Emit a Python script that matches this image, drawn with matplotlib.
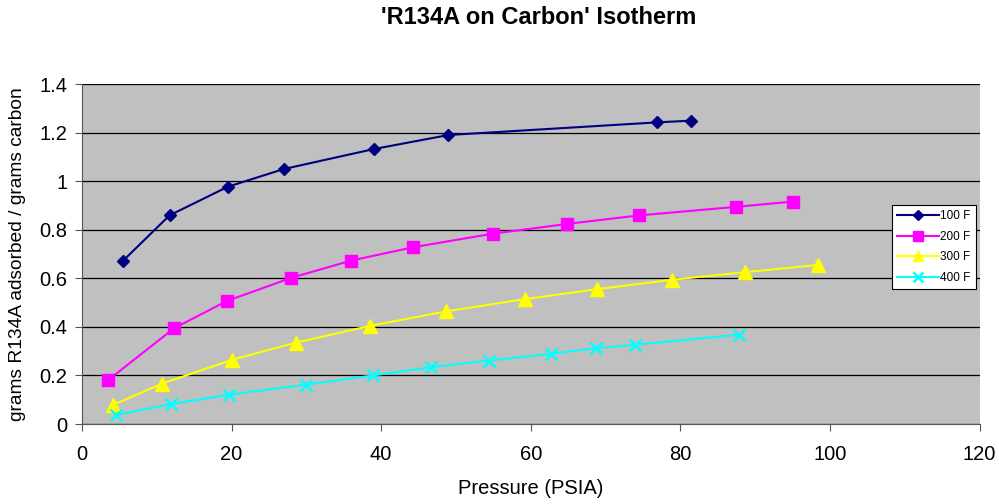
import matplotlib
matplotlib.use("Agg")
import matplotlib.pyplot as plt

plt.rcParams['font.family'] = ['Liberation Sans', 'DejaVu Sans']

p100 = [5.45, 11.7, 19.5, 27.0, 39.0, 49.0, 76.9, 81.4]
q100 = [0.671, 0.859, 0.977, 1.050, 1.132, 1.190, 1.242, 1.249]

p200 = [3.5, 12.3, 19.4, 28.0, 36.0, 44.3, 55.0, 64.9, 74.5, 87.4, 95.1]
q200 = [0.181, 0.394, 0.507, 0.602, 0.673, 0.728, 0.784, 0.824, 0.859, 0.894, 0.916]

p300 = [4.1, 10.7, 20.0, 28.6, 38.5, 48.7, 59.2, 68.8, 78.9, 88.6, 98.4]
q300 = [0.078, 0.166, 0.264, 0.335, 0.404, 0.464, 0.514, 0.555, 0.594, 0.625, 0.655]

p400 = [4.5, 11.9, 19.7, 30.0, 38.9, 46.7, 54.4, 62.7, 68.7, 73.9, 87.9]
q400 = [0.037, 0.082, 0.121, 0.162, 0.200, 0.234, 0.261, 0.289, 0.312, 0.326, 0.368]

labels = ['100 F', '200 F', '300 F', '400 F']
xticks = [0, 20, 40, 60, 80, 100, 120]
yticks = [0, 0.2, 0.4, 0.6, 0.8, 1, 1.2, 1.4]
yticklabels = ['0', '0.2', '0.4', '0.6', '0.8', '1', '1.2', '1.4']

W, H = 999, 504
fig = plt.figure(figsize=(W/100, H/100), dpi=100)
ax = fig.add_axes([82/W, 1-424/H, (979.5-82)/W, (424-84)/H])
ax.set_facecolor('#C0C0C0')

ax.plot(p100, q100, color='#000080', marker='D', markersize=6.5, lw=1.5, label=labels[0])
ax.plot(p200, q200, color='#FF00FF', marker='s', markersize=9, lw=1.5, label=labels[1])
ax.plot(p300, q300, color='#FFFF00', marker='^', markersize=9.5, lw=1.5, label=labels[2])
ax.plot(p400, q400, color='#00FFFF', marker='x', markersize=8.5, mew=1.8, lw=1.5, label=labels[3])

ax.set_xlim(0, 120)
ax.set_ylim(0, 1.4)
ax.set_xticks(xticks)
ax.set_yticks(yticks)
ax.set_yticklabels(yticklabels)
ax.yaxis.grid(True, color='black', lw=0.9)
ax.set_axisbelow(True)
for s in ['top', 'right']:
    ax.spines[s].set_visible(False)
for s in ['left', 'bottom']:
    ax.spines[s].set_color('#555555')
ax.tick_params(axis='both', labelsize=14.5, direction='out', length=5, color='#555555')
ax.tick_params(axis='x', pad=10)
ax.tick_params(axis='y', pad=5.5)

ax.set_xlabel('Pressure (PSIA)', fontsize=14.5)
ax.xaxis.set_label_coords(0.5, (424-488)/340)
ax.xaxis.label.set_va('center')
ax.set_ylabel('grams R134A adsorbed / grams carbon', fontsize=13.8)
ax.yaxis.set_label_coords((18-82)/897.5, 0.5)
ax.yaxis.label.set_va('center')
fig.text(539/W, 1-18/H, "'R134A on Carbon' Isotherm", ha='center', va='center',
         fontsize=17, fontweight='bold')

leg = fig.legend(loc='upper left', bbox_to_anchor=(892/W, 1-205/H),
                 bbox_transform=fig.transFigure, fontsize=8.5, frameon=True,
                 fancybox=False, edgecolor='black', framealpha=1,
                 handlelength=3.5, borderpad=0.45, labelspacing=0.72,
                 handletextpad=0.15, borderaxespad=0, markerscale=0.8)
leg.get_frame().set_linewidth(0.8)

fig.savefig('out.png', dpi=100)
